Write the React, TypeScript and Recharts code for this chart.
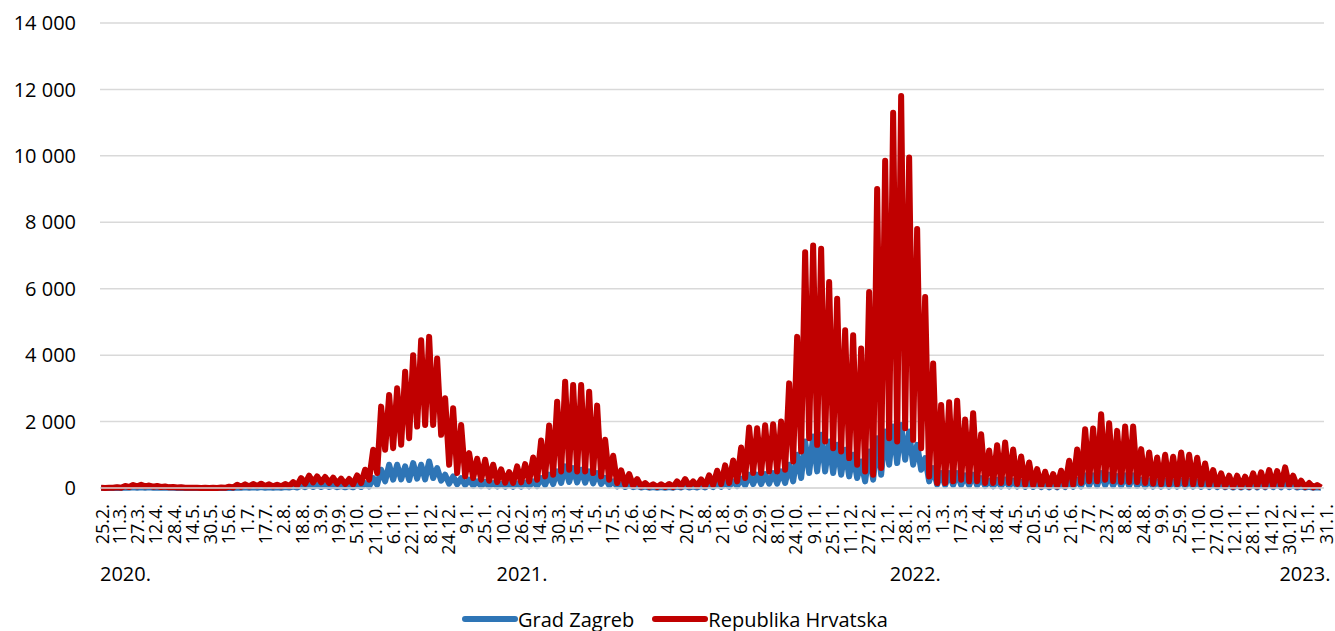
import React from 'react';
import { LineChart, Line, XAxis, YAxis, CartesianGrid, Legend } from 'recharts';

// date labels on the category axis, one every 16 days from 25.2.2020
const tickLabels = [
  '25.2.', '11.3.', '27.3.', '12.4.', '28.4.', '14.5.', '30.5.', '15.6.', '1.7.', '17.7.',
  '2.8.', '18.8.', '3.9.', '19.9.', '5.10.', '21.10.', '6.11.', '22.11.', '8.12.', '24.12.',
  '9.1.', '25.1.', '10.2.', '26.2.', '14.3.', '30.3.', '15.4.', '1.5.', '17.5.', '2.6.',
  '18.6.', '4.7.', '20.7.', '5.8.', '21.8.', '6.9.', '22.9.', '8.10.', '24.10.', '9.11.',
  '25.11.', '11.12.', '27.12.', '12.1.', '28.1.', '13.2.', '1.3.', '17.3.', '2.4.', '18.4.',
  '4.5.', '20.5.', '5.6.', '21.6.', '7.7.', '23.7.', '8.8.', '24.8.', '9.9.', '25.9.',
  '11.10.', '27.10.', '12.11.', '28.11.', '14.12.', '30.12.', '15.1.', '31.1.'
];
const tickDays = tickLabels.map((_, i) => (i === 0 ? 0 : 15 + 16 * (i - 1)));

const yearLabels = ['2020.', '2021.', '2022.', '2023.'];
const yearDays = [0, 347, 691, 1032];

// weekly highs / lows, Republika Hrvatska
const hrPeaks = [
  5, 10, 25, 60, 90, 95, 75, 60, 45, 30,
  20, 10, 5, 5, 5, 15, 40, 95, 110, 120,
  130, 110, 100, 120, 180, 300, 370, 350, 330, 310,
  280, 270, 380, 550, 1150, 2450, 2800, 3000, 3500, 4000,
  4450, 4550, 3900, 2700, 2400, 1900, 1050, 880, 850, 700,
  560, 480, 650, 720, 920, 1430, 1880, 2600, 3200, 3100,
  3100, 2900, 2480, 1450, 970, 530, 420, 270, 150, 110,
  110, 120, 200, 270, 200, 260, 380, 520, 680, 830,
  1220, 1820, 1800, 1890, 1920, 2000, 3150, 4550, 7100, 7300,
  7200, 6200, 5700, 4750, 4600, 4200, 5900, 9000, 9850, 11300,
  11800, 9950, 7800, 5750, 3750, 2500, 2580, 2630, 2060, 2250,
  1620, 1130, 1290, 1370, 1160, 950, 770, 570, 490, 420,
  520, 820, 1160, 1770, 1790, 2220, 1950, 1720, 1850, 1850,
  1170, 1070, 920, 1000, 940, 1070, 1000, 910, 740, 540,
  440, 370, 370, 340, 440, 470, 540, 510, 620, 370,
  220, 150, 90
];
const hrLows = [
  0, 5, 10, 30, 50, 50, 40, 30, 20, 15,
  10, 5, 0, 0, 0, 5, 15, 40, 50, 60,
  60, 50, 50, 60, 80, 130, 170, 170, 150, 130,
  120, 110, 150, 250, 450, 1150, 1200, 1300, 1500, 1850,
  1900, 1900, 1600, 700, 450, 350, 300, 250, 220, 180,
  160, 150, 170, 200, 250, 350, 400, 500, 550, 500,
  500, 450, 350, 250, 150, 100, 70, 50, 40, 30,
  30, 30, 50, 60, 60, 60, 90, 120, 150, 200,
  300, 450, 450, 500, 500, 550, 800, 1100, 1500, 1300,
  1400, 1200, 1100, 900, 700, 500, 400, 600, 1500, 1400,
  1800, 1450, 1200, 350, 150, 150, 200, 250, 200, 200,
  150, 150, 150, 150, 120, 100, 80, 60, 60, 50,
  60, 100, 150, 200, 200, 250, 200, 180, 180, 180,
  150, 130, 110, 110, 110, 120, 110, 100, 80, 60,
  50, 40, 40, 40, 50, 50, 60, 60, 70, 50,
  30, 20, 15
];

// weekly highs / lows, Grad Zagreb
const zgPeaks = [
  0, 2, 5, 15, 25, 25, 20, 15, 10, 8,
  5, 3, 2, 1, 1, 2, 5, 15, 20, 25,
  30, 25, 25, 30, 40, 70, 90, 90, 80, 70,
  60, 60, 90, 150, 300, 550, 700, 700, 650, 750,
  700, 800, 600, 400, 350, 300, 250, 200, 180, 150,
  130, 120, 140, 160, 200, 300, 400, 500, 650, 600,
  550, 500, 450, 300, 200, 120, 90, 60, 40, 30,
  30, 30, 50, 60, 50, 60, 90, 120, 150, 200,
  280, 400, 400, 420, 450, 500, 700, 1000, 1400, 1550,
  1600, 1400, 1300, 1150, 1000, 800, 1100, 1500, 1700, 1850,
  1900, 1700, 1300, 900, 600, 450, 450, 450, 380, 400,
  300, 220, 250, 260, 220, 180, 150, 110, 100, 90,
  110, 170, 250, 380, 380, 450, 400, 360, 380, 380,
  250, 230, 200, 210, 200, 230, 210, 190, 160, 120,
  100, 80, 80, 75, 95, 100, 120, 110, 130, 80,
  50, 35, 20
];
const zgLows = [
  0, 0, 2, 5, 10, 10, 8, 5, 4, 3,
  2, 1, 0, 0, 0, 1, 2, 5, 8, 10,
  10, 10, 10, 12, 15, 25, 30, 30, 30, 25,
  20, 20, 30, 50, 100, 200, 250, 260, 240, 280,
  260, 300, 220, 130, 110, 90, 70, 60, 50, 45,
  40, 35, 40, 50, 60, 90, 120, 150, 180, 170,
  160, 140, 120, 80, 50, 30, 25, 15, 10, 8,
  8, 8, 15, 15, 15, 15, 25, 35, 45, 60,
  80, 120, 120, 130, 130, 150, 200, 300, 450, 500,
  500, 450, 400, 350, 300, 200, 250, 400, 700, 750,
  850, 700, 550, 200, 100, 80, 90, 90, 80, 80,
  60, 50, 50, 50, 45, 35, 30, 25, 20, 20,
  25, 35, 50, 70, 70, 80, 70, 65, 65, 65,
  50, 45, 40, 40, 40, 45, 40, 35, 30, 25,
  20, 15, 15, 15, 18, 20, 22, 20, 25, 15,
  10, 8, 5
];

const FONT = "'Open Sans', sans-serif";
const RED = '#C00000';
const BLUE = '#2E75B6';
const W = 1335;
const H = 631;
const PLOT_LEFT = 100;
const PLOT_RIGHT = 1324;
const LAST_DAY = 1071;

const chartData: { day: number; zg: number; hr: number }[] = [];
hrPeaks.forEach((_, w) => {
  chartData.push({ day: 7 * w + 1, zg: zgPeaks[w], hr: hrPeaks[w] });
  chartData.push({ day: 7 * w + 4.5, zg: zgLows[w], hr: hrLows[w] });
});

const DateTick = ({ x, y, payload }: any) => {
  const label = tickLabels[tickDays.indexOf(payload.value)];
  return (
    <text
      transform={`translate(${x + 1.5},${y + 8}) rotate(-90)`}
      textAnchor="end"
      dominantBaseline="central"
      fontSize={18}
      fontFamily={FONT}
      fill="#000"
    >
      {label}
    </text>
  );
};

const LegendContent = () => (
  <div
    style={{
      display: 'flex',
      alignItems: 'center',
      boxSizing: 'border-box',
      height: 30,
      paddingTop: 6,
      paddingLeft: 462,
      fontFamily: FONT,
      fontSize: 20,
      color: '#000'
    }}
  >
    <svg width={56} height={8}>
      <line x1={3} y1={4} x2={53} y2={4} stroke={BLUE} strokeWidth={6} strokeLinecap="round" />
    </svg>
    <span style={{ marginRight: 18 }}>Grad Zagreb</span>
    <svg width={56} height={8}>
      <line x1={3} y1={4} x2={53} y2={4} stroke={RED} strokeWidth={6} strokeLinecap="round" />
    </svg>
    <span>Republika Hrvatska</span>
  </div>
);

export default function App() {
  return (
    <div style={{ position: 'absolute', left: 0, top: 0, width: W, height: H, background: '#fff' }}>
      <LineChart width={W} height={H} data={chartData} margin={{ top: 23, right: W - PLOT_RIGHT, bottom: 0, left: 0 }}>
        <CartesianGrid vertical={false} stroke="#d9d9d9" strokeWidth={1.5} />
        <XAxis
          dataKey="day"
          type="number"
          domain={[0, LAST_DAY]}
          ticks={tickDays}
          interval={0}
          tick={<DateTick />}
          tickLine={false}
          tickSize={4}
          tickMargin={4}
          axisLine={{ stroke: '#d9d9d9', strokeWidth: 1.5 }}
          height={113}
        />
        <YAxis
          domain={[0, 14000]}
          ticks={[0, 2000, 4000, 6000, 8000, 10000, 12000, 14000]}
          tickFormatter={(v: number) => v.toLocaleString('en-US').replace(/,/g, ' ')}
          tick={{ fontSize: 20, fontFamily: FONT, fill: '#000' }}
          axisLine={false}
          tickLine={false}
          tickSize={0}
          tickMargin={24}
          width={PLOT_LEFT}
        />
        <Legend verticalAlign="bottom" height={30} content={<LegendContent />} />
        <Line type="linear" dataKey="zg" name="Grad Zagreb" stroke={BLUE} strokeWidth={6} strokeLinejoin="round" dot={false} isAnimationActive={false} />
        <Line type="linear" dataKey="hr" name="Republika Hrvatska" stroke={RED} strokeWidth={6} strokeLinejoin="round" dot={false} isAnimationActive={false} />
      </LineChart>
      {yearLabels.map((label, i) => (
        <div
          key={label}
          style={{
            position: 'absolute',
            left: PLOT_LEFT + (yearDays[i] / LAST_DAY) * (PLOT_RIGHT - PLOT_LEFT),
            top: 560,
            lineHeight: '28px',
            fontFamily: FONT,
            fontSize: 20,
            color: '#000',
            whiteSpace: 'nowrap'
          }}
        >
          {label}
        </div>
      ))}
    </div>
  );
}
